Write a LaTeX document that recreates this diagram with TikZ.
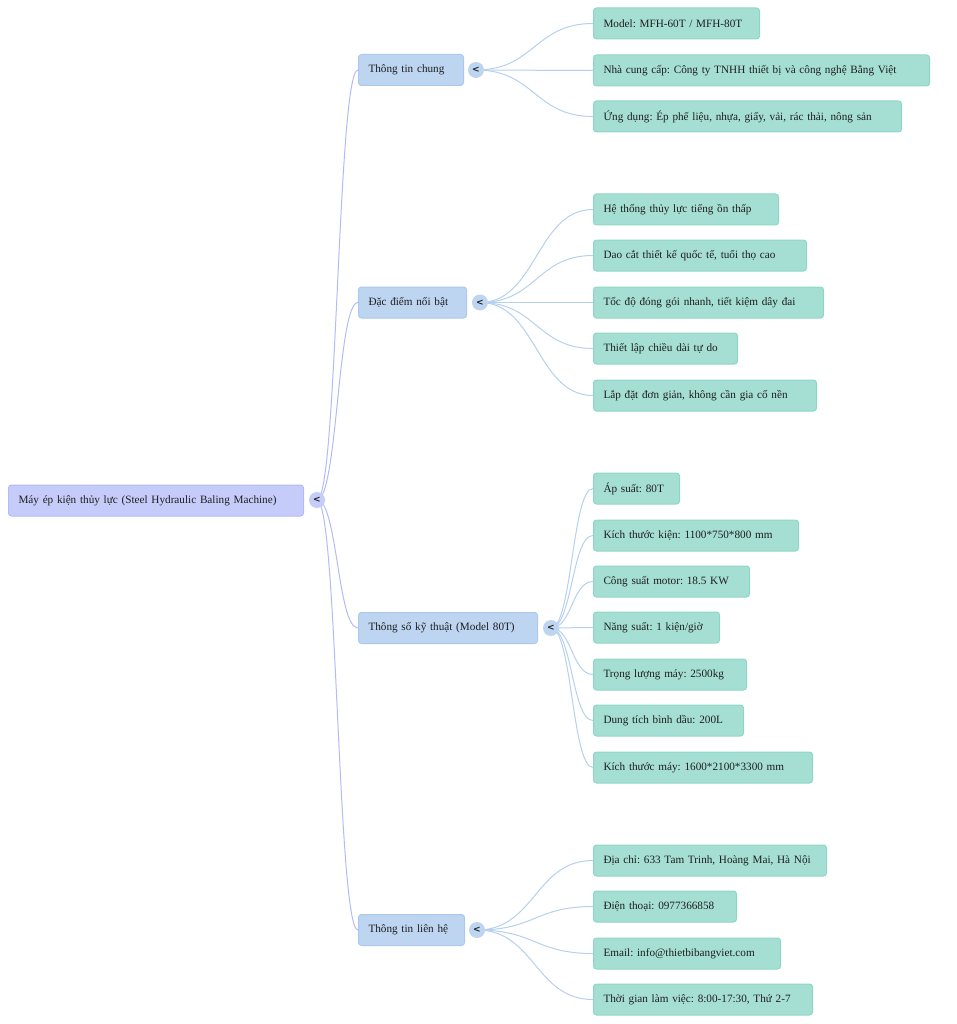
\documentclass[tikz,border=0pt]{standalone}
\usepackage{fontspec}
\setmainfont{Liberation Serif}
\newfontfamily\knobfont{DejaVu Sans}
\definecolor{rootfill}{HTML}{C6CCFA}
\definecolor{rootline}{HTML}{B3BBF6}
\definecolor{midfill}{HTML}{BDD5F1}
\definecolor{midline}{HTML}{ABC9EC}
\definecolor{midlinkcol}{HTML}{B6D0EE}
\definecolor{leaffill}{HTML}{A5DFD3}
\definecolor{leafline}{HTML}{8DD6C5}
\definecolor{inkcol}{HTML}{1E1E1E}
\begin{document}
\begin{tikzpicture}[x=1pt,y=-1pt,
  font=\fontsize{11.2}{14}\selectfont\frenchspacing, text=inkcol,
  box/.style={rounded corners=3pt, line width=1pt, anchor=west, align=left,
    inner xsep=10pt, inner ysep=0pt, minimum height=31pt, text width=#1},
  rootbox/.style={box=#1, fill=rootfill, draw=rootline},
  midbox/.style={box=#1, fill=midfill, draw=midline},
  leafbox/.style={box=#1, fill=leaffill, draw=leafline},
  knob/.style={circle, inner sep=0pt, minimum size=16pt,
    font=\knobfont\bfseries\fontsize{9}{9}\selectfont},
  rootlink/.style={draw=rootline, line width=1pt},
  midlink/.style={draw=midlinkcol, line width=1pt}]
  \useasboundingbox (0,0) rectangle (957,1024);

  % root
  \node[rootbox=275] (root) at (8,500.5) {Máy ép kiện thủy lực (Steel Hydraulic Baling Machine)};
  \coordinate (rk) at (317,500);

  % level 1
  \node[midbox=85] (info) at (358,70) {Thông tin chung};
  \node[midbox=88] (feat) at (358,302.5) {Đặc điểm nổi bật};
  \node[midbox=159] (spec) at (358,628) {Thông số kỹ thuật (Model 80T)};
  \node[midbox=86] (cont) at (358,930) {Thông tin liên hệ};
  \coordinate (ik) at (476,70);
  \coordinate (fk) at (480,302.5);
  \coordinate (sk) at (551,628);
  \coordinate (ck) at (477,930);

  % leaves
  \node[leafbox=146] (i1) at (593,23.5) {Model: MFH-60T / MFH-80T};
  \node[leafbox=316] (i2) at (593,70.5) {Nhà cung cấp: Công ty TNHH thiết bị và công nghệ Bằng Việt};
  \node[leafbox=288] (i3) at (593,116.5) {Ứng dụng: Ép phế liệu, nhựa, giấy, vải, rác thải, nông sản};

  \node[leafbox=165] (f1) at (593,209.5) {Hệ thống thủy lực tiếng ồn thấp};
  \node[leafbox=193] (f2) at (593,255.5) {Dao cắt thiết kế quốc tế, tuổi thọ cao};
  \node[leafbox=210] (f3) at (593,302.5) {Tốc độ đóng gói nhanh, tiết kiệm dây đai};
  \node[leafbox=124] (f4) at (593,348.5) {Thiết lập chiều dài tự do};
  \node[leafbox=203] (f5) at (593,395.5) {Lắp đặt đơn giản, không cần gia cố nền};

  \node[leafbox=66] (s1) at (593,488.5) {Áp suất: 80T};
  \node[leafbox=185] (s2) at (593,535.5) {Kích thước kiện: 1100*750*800 mm};
  \node[leafbox=136] (s3) at (593,581.5) {Công suất motor: 18.5 KW};
  \node[leafbox=106] (s4) at (593,627.5) {Năng suất: 1 kiện/giờ};
  \node[leafbox=133] (s5) at (593,674.5) {Trọng lượng máy: 2500kg};
  \node[leafbox=130] (s6) at (593,720.5) {Dung tích bình dầu: 200L};
  \node[leafbox=199] (s7) at (593,767.5) {Kích thước máy: 1600*2100*3300 mm};

  \node[leafbox=213] (c1) at (593,860.5) {\mbox{Địa chỉ: 633 Tam Trinh, Hoàng Mai, Hà Nội}};
  \node[leafbox=123] (c2) at (593,906.5) {Điện thoại: 0977366858};
  \node[leafbox=167] (c3) at (593,953.5) {Email: info@thietbibangviet.com};
  \node[leafbox=199] (c4) at (593,999.5) {Thời gian làm việc: 8:00-17:30, Thứ 2-7};

  % links
  \path[rootlink] (rk) .. controls +(20.5,0) and +(-20.5,0) .. (info.west);
  \path[rootlink] (rk) .. controls +(20.5,0) and +(-20.5,0) .. (feat.west);
  \path[rootlink] (rk) .. controls +(20.5,0) and +(-20.5,0) .. (spec.west);
  \path[rootlink] (rk) .. controls +(20.5,0) and +(-20.5,0) .. (cont.west);

  \path[midlink] (ik) .. controls +(58.5,0) and +(-58.5,0) .. (i1.west);
  \path[midlink] (ik) .. controls +(58.5,0) and +(-58.5,0) .. (i2.west);
  \path[midlink] (ik) .. controls +(58.5,0) and +(-58.5,0) .. (i3.west);

  \path[midlink] (fk) .. controls +(56.5,0) and +(-56.5,0) .. (f1.west);
  \path[midlink] (fk) .. controls +(56.5,0) and +(-56.5,0) .. (f2.west);
  \path[midlink] (fk) .. controls +(56.5,0) and +(-56.5,0) .. (f3.west);
  \path[midlink] (fk) .. controls +(56.5,0) and +(-56.5,0) .. (f4.west);
  \path[midlink] (fk) .. controls +(56.5,0) and +(-56.5,0) .. (f5.west);

  \path[midlink] (sk) .. controls +(21,0) and +(-21,0) .. (s1.west);
  \path[midlink] (sk) .. controls +(21,0) and +(-21,0) .. (s2.west);
  \path[midlink] (sk) .. controls +(21,0) and +(-21,0) .. (s3.west);
  \path[midlink] (sk) .. controls +(21,0) and +(-21,0) .. (s4.west);
  \path[midlink] (sk) .. controls +(21,0) and +(-21,0) .. (s5.west);
  \path[midlink] (sk) .. controls +(21,0) and +(-21,0) .. (s6.west);
  \path[midlink] (sk) .. controls +(21,0) and +(-21,0) .. (s7.west);

  \path[midlink] (ck) .. controls +(58,0) and +(-58,0) .. (c1.west);
  \path[midlink] (ck) .. controls +(58,0) and +(-58,0) .. (c2.west);
  \path[midlink] (ck) .. controls +(58,0) and +(-58,0) .. (c3.west);
  \path[midlink] (ck) .. controls +(58,0) and +(-58,0) .. (c4.west);

  % toggles
  \node[knob, fill=rootfill] (rootknob) at (rk) {<};
  \node[knob, fill=midfill] (infoknob) at (ik) {<};
  \node[knob, fill=midfill] (featknob) at (fk) {<};
  \node[knob, fill=midfill] (specknob) at (sk) {<};
  \node[knob, fill=midfill] (contknob) at (ck) {<};
\end{tikzpicture}
\end{document}
